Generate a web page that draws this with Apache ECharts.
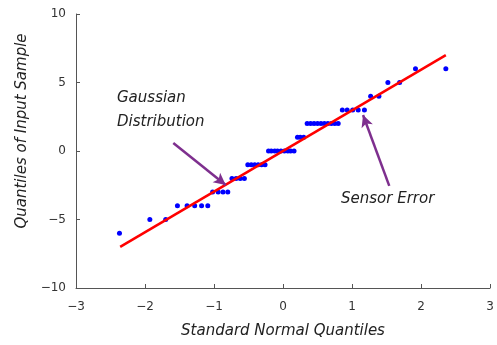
<!DOCTYPE html>
<html>
<head>
<meta charset="utf-8">
<script src="https://cdn.jsdelivr.net/npm/echarts@6/dist/echarts.min.js"></script>
<style>
  html, body { margin: 0; padding: 0; background: #fff; }
  #chart { width: 497px; height: 345px; }
</style>
</head>
<body>
<div id="chart"></div>
<script>
// Theoretical standard normal quantiles (x) and sorted sample values (y)
var normalQuantiles = [
  -2.37,
  -1.93, -1.70,
  -1.53, -1.39, -1.28, -1.18, -1.09,
  -1.02, -0.94, -0.87, -0.80,
  -0.74, -0.68, -0.62, -0.56,
  -0.51, -0.46, -0.41, -0.36, -0.31, -0.26,
  -0.21, -0.17, -0.12, -0.08, -0.03, 0.02, 0.07, 0.11, 0.16,
  0.21, 0.25, 0.30,
  0.35, 0.40, 0.45, 0.50, 0.55, 0.60, 0.65, 0.70, 0.75, 0.80,
  0.86, 0.93, 1.01, 1.09, 1.18,
  1.27, 1.39,
  1.52, 1.69,
  1.92, 2.36
];
var sampleValues = [
  -6,
  -5, -5,
  -4, -4, -4, -4, -4,
  -3, -3, -3, -3,
  -2, -2, -2, -2,
  -1, -1, -1, -1, -1, -1,
  0, 0, 0, 0, 0, 0, 0, 0, 0,
  1, 1, 1,
  2, 2, 2, 2, 2, 2, 2, 2, 2, 2,
  3, 3, 3, 3, 3,
  4, 4,
  5, 5,
  6, 6
];
// Reference line end points
var fitLineX = [-2.36, 2.36];
var fitLineY = [-7.0, 7.0];

// Tick values
var xTicks = [-3, -2, -1, 0, 1, 2, 3];
var yTicks = [-10, -5, 0, 5, 10];

// Annotation arrows: [start, tip] in data units
var gaussArrow = [[-1.59, 0.58], [-0.83, -2.48]];
var sensorArrow = [[1.54, -2.55], [1.16, 2.63]];

var points = normalQuantiles.map(function (q, i) { return [q, sampleValues[i]]; });
var fitLine = fitLineX.map(function (x, i) { return [x, fitLineY[i]]; });

function minusSign(v) { return String(v).replace('-', '\u2212'); }

var axisColor = '#555';
var purple = '#7E2F8E';
var textFont = 'DejaVu Sans';
var noteFont = 'italic 15px "DejaVu Sans"';

var chart = echarts.init(document.getElementById('chart'), null, { renderer: 'canvas' });
chart.setOption({
  animation: false,
  backgroundColor: '#fff',
  grid: { left: 76, right: 7, top: 14, bottom: 57, containLabel: false },
  xAxis: {
    type: 'value',
    min: xTicks[0], max: xTicks[xTicks.length - 1], interval: 1,
    axisLine: { show: true, onZero: false, lineStyle: { color: axisColor, width: 1 } },
    axisTick: { show: true, inside: true, length: 4, lineStyle: { color: axisColor } },
    splitLine: { show: false },
    axisLabel: { color: '#333', fontFamily: textFont, fontSize: 12, margin: 13, formatter: minusSign },
    name: 'Standard Normal Quantiles',
    nameLocation: 'middle',
    nameGap: 36,
    nameTextStyle: { color: '#222', fontFamily: textFont, fontStyle: 'italic', fontSize: 15 }
  },
  yAxis: {
    type: 'value',
    min: yTicks[0], max: yTicks[yTicks.length - 1], interval: 5,
    axisLine: { show: true, onZero: false, lineStyle: { color: axisColor, width: 1 } },
    axisTick: { show: true, inside: true, length: 4, lineStyle: { color: axisColor } },
    splitLine: { show: false },
    axisLabel: { color: '#333', fontFamily: textFont, fontSize: 12, margin: 10, formatter: minusSign }
  },
  graphic: [
    {
      type: 'text', x: 22, y: 131, rotation: Math.PI / 2,
      style: {
        text: 'Quantiles of Input Sample', fill: '#222',
        font: noteFont, align: 'center', verticalAlign: 'middle'
      }
    },
    {
      type: 'text', x: 117, y: 98,
      style: { text: 'Gaussian', fill: '#222', font: noteFont, align: 'left', verticalAlign: 'middle' }
    },
    {
      type: 'text', x: 117, y: 122,
      style: { text: 'Distribution', fill: '#222', font: noteFont, align: 'left', verticalAlign: 'middle' }
    },
    {
      type: 'text', x: 341, y: 199,
      style: { text: 'Sensor Error', fill: '#222', font: noteFont, align: 'left', verticalAlign: 'middle' }
    }
  ],
  series: [
    {
      type: 'scatter',
      data: points,
      symbol: 'circle',
      symbolSize: 5,
      itemStyle: { color: '#0000FF', opacity: 1 },
      z: 2
    },
    {
      type: 'line',
      data: fitLine,
      symbol: 'none',
      lineStyle: { color: '#FF0000', width: 2.5 },
      z: 3,
      markLine: {
        silent: true,
        symbol: ['none', 'arrow'],
        symbolSize: [9, 12],
        label: { show: false },
        lineStyle: { color: purple, width: 2.5, type: 'solid' },
        data: [
          [{ coord: gaussArrow[0] }, { coord: gaussArrow[1] }],
          [{ coord: sensorArrow[0] }, { coord: sensorArrow[1] }]
        ]
      }
    }
  ]
});
</script>
</body>
</html>
